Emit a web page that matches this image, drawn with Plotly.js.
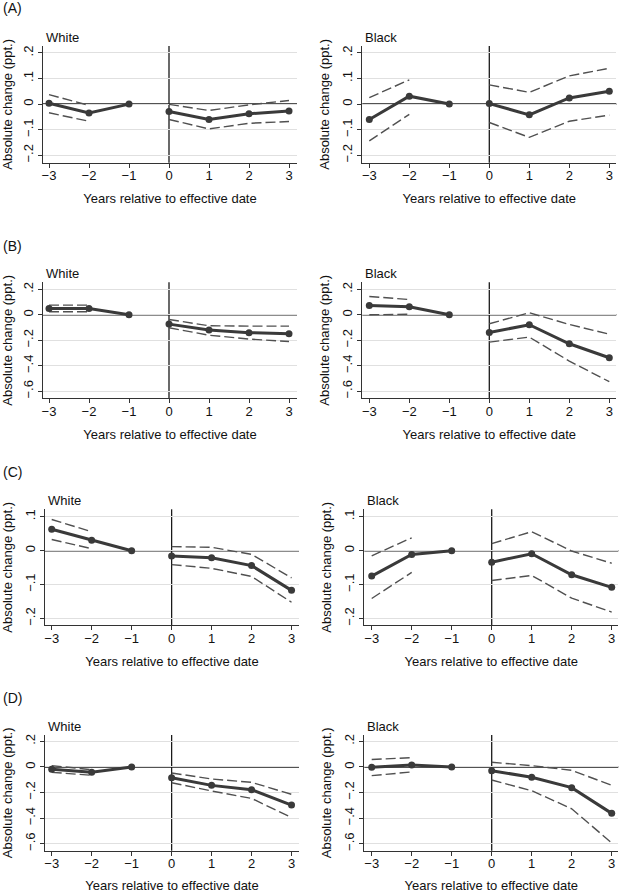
<!DOCTYPE html>
<html><head><meta charset="utf-8">
<script src="https://cdn.plot.ly/plotly-3.0.1.min.js"></script>
<style>html,body{margin:0;padding:0;background:#fff}#chart{width:619px;height:893px}</style>
</head><body><div id="chart"></div>
<script>
// ---------- data ----------
const years = [-3, -2, -1, 0, 1, 2, 3];
const panelLetters = ["(A)", "(B)", "(C)", "(D)"];
const groupNames = ["White", "Black"];
const xTitle = "Years relative to effective date";
const yTitle = "Absolute change (ppt.)";
const xTickVals = [-3, -2, -1, 0, 1, 2, 3];
const xTickText = ["\u22123", "\u22122", "\u22121", "0", "1", "2", "3"];

// y tick labels per row
const yTickValsA = [-0.2, -0.1, 0, 0.1, 0.2];
const yTickTextA = ["\u2212.2", "\u2212.1", "0", ".1", ".2"];
const yTickValsB = [-0.6, -0.4, -0.2, 0, 0.2];
const yTickTextB = ["\u2212.6", "\u2212.4", "\u2212.2", "0", ".2"];
const yTickValsC = [-0.2, -0.1, 0, 0.1];
const yTickTextC = ["\u2212.2", "\u2212.1", "0", ".1"];
const yTickValsD = [-0.6, -0.4, -0.2, 0, 0.2];
const yTickTextD = ["\u2212.6", "\u2212.4", "\u2212.2", "0", ".2"];

// Row A
const aWhiteEst = [0.003, -0.035, 0, -0.029, -0.060, -0.038, -0.027];
const aWhiteHi  = [0.037, -0.005, null, -0.001, -0.025, -0.003, 0.014];
const aWhiteLo  = [-0.034, -0.067, null, -0.060, -0.097, -0.075, -0.068];
const aBlackEst = [-0.060, 0.031, 0, 0.002, -0.042, 0.024, 0.050];
const aBlackHi  = [0.025, 0.095, null, 0.075, 0.046, 0.110, 0.140];
const aBlackLo  = [-0.144, -0.040, null, -0.072, -0.130, -0.067, -0.043];
// Row B
const bWhiteEst = [0.050, 0.050, 0, -0.073, -0.120, -0.140, -0.149];
const bWhiteHi  = [0.076, 0.076, null, -0.037, -0.086, -0.089, -0.089];
const bWhiteLo  = [0.024, 0.024, null, -0.102, -0.160, -0.190, -0.210];
const bBlackEst = [0.073, 0.063, 0, -0.139, -0.078, -0.227, -0.337];
const bBlackHi  = [0.144, 0.120, null, -0.070, 0.016, -0.076, -0.152];
const bBlackLo  = [0.000, 0.005, null, -0.214, -0.175, -0.363, -0.525];
// Row C
const cWhiteEst = [0.063, 0.031, 0, -0.016, -0.021, -0.044, -0.117];
const cWhiteHi  = [0.092, 0.056, null, 0.012, 0.010, -0.011, -0.080];
const cWhiteLo  = [0.033, 0.006, null, -0.041, -0.052, -0.076, -0.152];
const cBlackEst = [-0.075, -0.011, 0, -0.034, -0.009, -0.071, -0.108];
const cBlackHi  = [-0.015, 0.038, null, 0.021, 0.056, -0.001, -0.037];
const cBlackLo  = [-0.141, -0.064, null, -0.088, -0.073, -0.140, -0.181];
// Row D
const dWhiteEst = [-0.018, -0.042, 0, -0.084, -0.144, -0.178, -0.298];
const dWhiteHi  = [0.010, -0.021, null, -0.047, -0.094, -0.120, -0.214];
const dWhiteLo  = [-0.042, -0.065, null, -0.123, -0.188, -0.246, -0.395];
const dBlackEst = [-0.003, 0.016, 0, -0.029, -0.081, -0.162, -0.363];
const dBlackHi  = [0.058, 0.073, null, 0.037, 0.010, -0.026, -0.144];
const dBlackLo  = [-0.068, -0.039, null, -0.102, -0.186, -0.327, -0.594];

const refYear = 0;
const refValue = 0;

// ---------- layout geometry (pixels) ----------
const W = 619, H = 893;
const rows = [
  {letter: panelLetters[0], letterY: 8, top: 46, bottom: 162.7, yr: [-0.229, 0.227], tv: yTickValsA, tt: yTickTextA,
   cols: [{dom: [43, 297], xr: [-3.15, 3.2]}, {dom: [362.3, 616.3], xr: [-3.175, 3.175]}],
   data: [[aWhiteEst, aWhiteHi, aWhiteLo], [aBlackEst, aBlackHi, aBlackLo]]},
  {letter: panelLetters[1], letterY: 246, top: 282.3, bottom: 398.3, yr: [-0.655, 0.255], tv: yTickValsB, tt: yTickTextB,
   cols: [{dom: [43, 297], xr: [-3.15, 3.2]}, {dom: [362.3, 616.3], xr: [-3.175, 3.175]}],
   data: [[bWhiteEst, bWhiteHi, bWhiteLo], [bBlackEst, bBlackHi, bBlackLo]]},
  {letter: panelLetters[2], letterY: 472, top: 509.3, bottom: 625.3, yr: [-0.22, 0.122], tv: yTickValsC, tt: yTickTextC,
   cols: [{dom: [45, 299], xr: [-3.168, 3.187]}, {dom: [364.3, 618.3], xr: [-3.185, 3.165]}],
   data: [[cWhiteEst, cWhiteHi, cWhiteLo], [cBlackEst, cBlackHi, cBlackLo]]},
  {letter: panelLetters[3], letterY: 698, top: 735, bottom: 850.7, yr: [-0.655, 0.25], tv: yTickValsD, tt: yTickTextD,
   cols: [{dom: [45, 299], xr: [-3.168, 3.187]}, {dom: [364.3, 618.3], xr: [-3.185, 3.165]}],
   data: [[dWhiteEst, dWhiteHi, dWhiteLo], [dBlackEst, dBlackHi, dBlackLo]]}
];

const FONT = "Liberation Sans, Arial, Helvetica, sans-serif";
const TXT = "#111";
const AXC = "#333";
const EST_C = "#3a3a3a";
const CI_C = "#505050";

const traces = [];
const layout = {
  width: W, height: H,
  margin: {l: 0, r: 0, t: 0, b: 0},
  paper_bgcolor: "#fff", plot_bgcolor: "#fff",
  showlegend: false,
  font: {family: FONT, size: 13, color: TXT},
  annotations: [], shapes: []
};

const pre = i => i <= 2;
const post = i => i >= 3;

let k = 0;
rows.forEach((row) => {
  layout.annotations.push({
    text: row.letter, xref: "paper", yref: "paper",
    x: 1 / W, y: 1 - row.letterY / H, xanchor: "left", yanchor: "middle",
    showarrow: false, font: {family: FONT, size: 14, color: TXT}
  });
  row.cols.forEach((col, c) => {
    const n = k === 0 ? "" : String(k + 1);
    const xa = "x" + n, ya = "y" + n;
    const [est, hi, lo] = row.data[c];
    const sel = (arr, f) => years.map((y, i) => [y, arr[i], i]).filter(p => f(p[2]));
    const add = (arr, f, isEst) => {
      const pts = sel(arr, f);
      const t = {
        type: "scatter", xaxis: xa, yaxis: ya,
        x: pts.map(p => p[0]), y: pts.map(p => p[1]),
        mode: isEst ? "lines+markers" : "lines",
        line: isEst ? {color: EST_C, width: 3} : {color: CI_C, width: 1.4, dash: "10px,4px"},
        hoverinfo: "skip"
      };
      if (isEst) t.marker = {color: EST_C, size: 7};
      traces.push(t);
    };
    add(hi, pre, false); add(lo, pre, false);
    add(hi, post, false); add(lo, post, false);
    add(est, pre, true); add(est, post, true);

    layout["xaxis" + n] = {
      domain: [col.dom[0] / W, col.dom[1] / W], range: col.xr, anchor: ya,
      tickmode: "array", tickvals: xTickVals, ticktext: xTickText,
      showgrid: false, zeroline: false, showline: true, linecolor: AXC, linewidth: 1,
      ticks: "outside", ticklen: 4, tickcolor: AXC, tickwidth: 1,
      ticklabelstandoff: -3,
      tickfont: {family: FONT, size: 13, color: TXT},
      title: {text: xTitle, font: {family: FONT, size: 13, color: TXT}, standoff: 11},
      fixedrange: true
    };
    layout["yaxis" + n] = {
      domain: [1 - row.bottom / H, 1 - row.top / H], range: row.yr, anchor: xa,
      tickmode: "array", tickvals: row.tv, ticktext: row.tt, tickangle: -90,
      showgrid: true, gridcolor: "#e0e0e0", gridwidth: 1,
      zeroline: false, showline: true, linecolor: AXC, linewidth: 1,
      ticks: "outside", ticklen: 4, tickcolor: AXC, tickwidth: 1,
      tickfont: {family: FONT, size: 13, color: TXT},
      title: {text: yTitle, font: {family: FONT, size: 13, color: TXT}, standoff: 7},
      fixedrange: true
    };
    // group label
    layout.annotations.push({
      text: groupNames[c], xref: "paper", yref: "paper",
      x: (col.dom[0] + 1) / W, y: 1 - (row.top - 9) / H, xanchor: "left", yanchor: "middle",
      showarrow: false, font: {family: FONT, size: 13, color: TXT}
    });
    // reference lines
    layout.shapes.push({type: "line", layer: "below", xref: xa, yref: ya + " domain",
      x0: refYear, x1: refYear, y0: 0, y1: 1, line: {color: "#1a1a1a", width: 1.3}});
    layout.shapes.push({type: "line", layer: "below", xref: xa + " domain", yref: ya,
      x0: 0, x1: 1, y0: refValue, y1: refValue, line: {color: "#1a1a1a", width: 1.6}});
    k++;
  });
});

Plotly.newPlot("chart", traces, layout, {staticPlot: true, displayModeBar: false});
</script>
</body></html>
